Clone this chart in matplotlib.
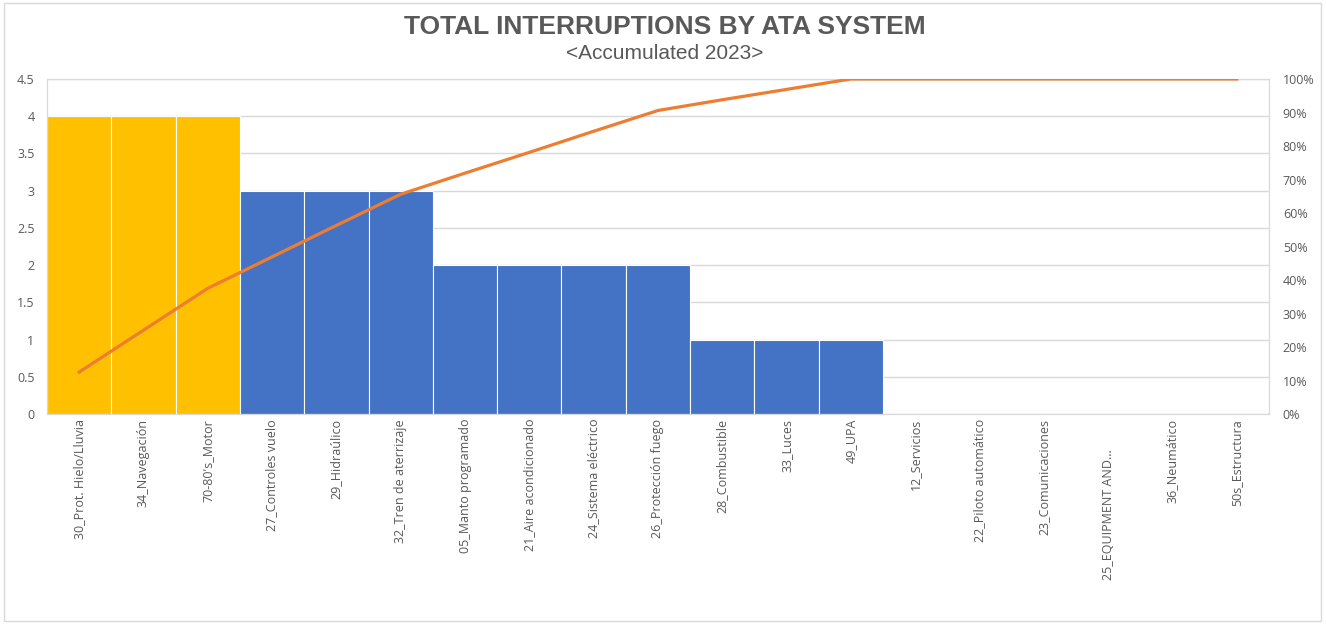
import matplotlib.pyplot as plt
import matplotlib.patches as mpatches
from matplotlib.transforms import ScaledTranslation
from matplotlib.ticker import PercentFormatter

categories = ['30_Prot. Hielo/Lluvia', '34_Navegación', "70-80's_Motor",
              '27_Controles vuelo', '29_Hidraúlico', '32_Tren de aterrizaje',
              '05_Manto programado', '21_Aire acondicionado', '24_Sistema eléctrico',
              '26_Protección fuego', '28_Combustible', '33_Luces', '49_UPA',
              '12_Servicios', '22_Piloto automático', '23_Comunicaciones',
              '25_EQUIPMENT AND...', '36_Neumático', '50s_Estructura']
counts = [4, 4, 4, 3, 3, 3, 2, 2, 2, 2, 1, 1, 1, 0, 0, 0, 0, 0, 0]
cum_pct = [12.5, 25.0, 37.5, 46.9, 56.3, 65.6, 71.9, 78.1, 84.4, 90.6,
           93.8, 96.9, 100, 100, 100, 100, 100, 100, 100]
highlight = [True, True, True] + [False] * 16

plt.rcParams['font.family'] = ['Open Sans', 'DejaVu Sans']
grey = '#595959'

fig = plt.figure(figsize=(13.26, 6.24), dpi=100)
fig.patches.append(mpatches.Rectangle((0.003, 0.005), 0.993, 0.99, transform=fig.transFigure,
                                      fill=False, edgecolor='#D9D9D9', linewidth=1))

ax = fig.add_axes([0.0354, 0.3365, 0.9216, 0.5369])
x = list(range(len(categories)))
colors = ['#FFC000' if h else '#4472C4' for h in highlight]
ax.bar(x, counts, width=1.0, color=colors, edgecolor='white', linewidth=0.8, zorder=2)
ax.set_xlim(-0.5, len(categories) - 0.5)
ax.set_ylim(0, 4.5)
ax.set_yticks([i * 0.5 for i in range(10)])
ax.set_yticklabels(['0', '0.5', '1', '1.5', '2', '2.5', '3', '3.5', '4', '4.5'])
ax.grid(axis='y', color='#D9D9D9', linewidth=1, zorder=0)
ax.set_axisbelow(True)
for s in ax.spines.values():
    s.set_color('#D9D9D9')
ax.tick_params(axis='y', length=0, colors=grey, labelsize=9, pad=9)
ax.tick_params(axis='x', length=0, colors=grey, labelsize=9)
ax.set_xticks(x)
ax.set_xticklabels(categories, rotation=90, va='top', ha='center', fontsize=9, color=grey)
# Excel pushes the truncated label a bit lower
lbl = ax.get_xticklabels()[16]
lbl.set_transform(lbl.get_transform() + ScaledTranslation(0, -0.3, fig.dpi_scale_trans))

ax2 = ax.twinx()
ax2.plot(x, cum_pct, color='#ED7D31', linewidth=2.3, zorder=3)
ax2.set_ylim(0, 100)
ax2.set_yticks(range(0, 101, 10))
ax2.yaxis.set_major_formatter(PercentFormatter(decimals=0))
ax2.tick_params(axis='y', length=0, colors=grey, labelsize=9, pad=10)
for s in ax2.spines.values():
    s.set_color('#D9D9D9')

fig.text(0.5015, 0.956, 'TOTAL INTERRUPTIONS BY ATA SYSTEM', ha='center', va='center',
         fontsize=19, fontweight='bold', color=grey,
         family=['Liberation Sans', 'DejaVu Sans'])
fig.text(0.5015, 0.914, '<Accumulated 2023>', ha='center', va='center',
         fontsize=15, color=grey, family=['Liberation Sans', 'DejaVu Sans'])

fig.savefig('out.png', dpi=100, facecolor='white')
